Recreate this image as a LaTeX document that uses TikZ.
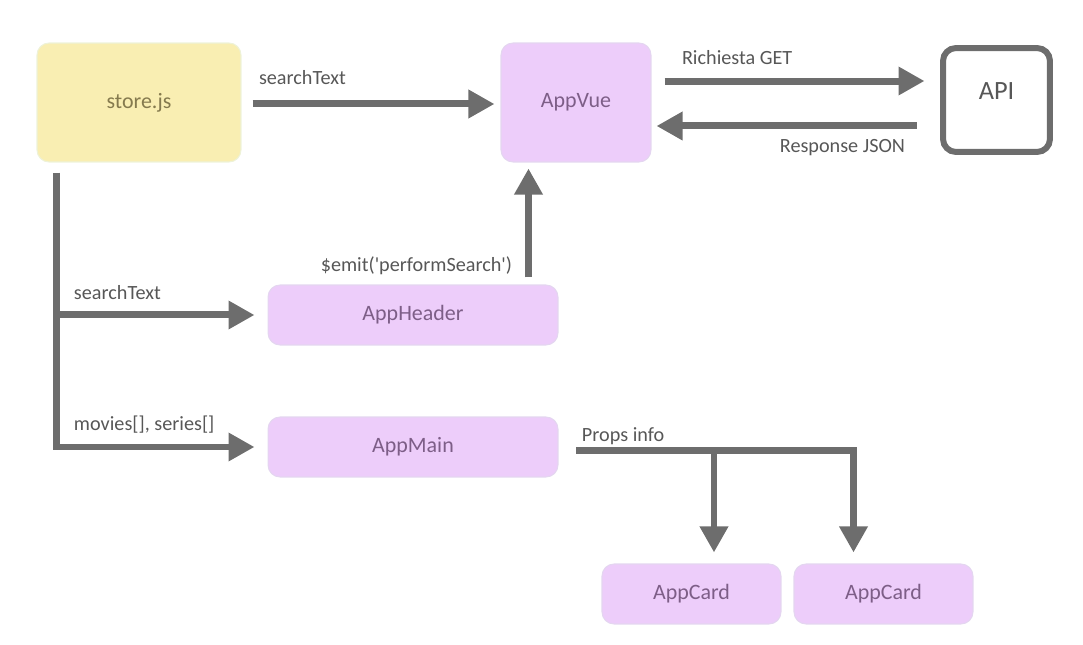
\documentclass[tikz,border=0pt]{standalone}
\usepackage{fontspec}
\setmainfont{Carlito}
\usetikzlibrary{arrows.meta}
\definecolor{storefill}{HTML}{F9EEB2}
\definecolor{storeedge}{HTML}{EEF2D8}
\definecolor{storetext}{HTML}{857A4E}
\definecolor{vuefill}{HTML}{EDCDFA}
\definecolor{vueedge}{HTML}{E4D6F0}
\definecolor{vuetext}{HTML}{7D5E87}
\definecolor{flowgray}{HTML}{6D6D6D}
\definecolor{labelgray}{HTML}{575757}

\begin{document}
\begin{tikzpicture}[x=0.02cm, y=-0.02cm,
            comp/.style = {shape=rectangle, rounded corners=0.24cm,
                           fill=vuefill, draw=vueedge, line width=0.6pt,
                           text=vuetext, font=\fontsize{12.5}{15}\selectfont},
            storebox/.style = {comp, fill=storefill, draw=storeedge, text=storetext},
            flow/.style = {draw=flowgray, line width=0.14cm,
                           -{Triangle[length=0.52cm, width=0.54cm]}},
            lbl/.style = {inner sep=0pt, text depth=0pt, text=labelgray,
                          font=\fontsize{11.5}{13}\selectfont}]
        \useasboundingbox (0,0) rectangle (1083,645);
        \node[storebox, minimum width=4.08cm, minimum height=2.38cm] (store) at (139,102.5) {store.js};
        \node[comp, minimum width=3cm, minimum height=2.38cm] (appvue) at (576,102.5) {AppVue};
        \node[draw=flowgray, line width=0.12cm, rounded corners=0.26cm,
              minimum width=2.14cm, minimum height=2.08cm, text depth=0.35cm,
              text=labelgray, font=\fontsize{15}{18}\selectfont] (api) at (996.5,100) {API};
        \node[comp, minimum width=5.8cm, minimum height=1.2cm] (header) at (413,315) {AppHeader};
        \node[comp, minimum width=5.8cm, minimum height=1.2cm] (main) at (413,447) {AppMain};
        \node[comp, minimum width=3.58cm, minimum height=1.2cm] (cardA) at (691.5,594) {AppCard};
        \node[comp, minimum width=3.58cm, minimum height=1.2cm] (cardB) at (883.5,594) {AppCard};

        \draw[flow, shorten >=0.12cm] ([xshift=0.22cm,yshift=-0.03cm]store.east)
            -- node[lbl, pos=0, anchor=base west, xshift=0.06cm, yshift=0.4cm] {searchText}
            ([yshift=-0.03cm]appvue.west);
        \draw[flow, shorten >=0.31cm] ([xshift=0.26cm,yshift=0.43cm]appvue.east)
            -- node[lbl, pos=0, anchor=base west, xshift=0.28cm, yshift=0.34cm] {Richiesta GET}
            ([yshift=0.43cm]appvue.east -| api.west);
        \draw[flow, shorten >=0.1cm] ([xshift=-0.47cm,yshift=-0.47cm]appvue.east -| api.west)
            -- node[lbl, pos=0, anchor=base east, xshift=-0.16cm, yshift=-0.54cm] {Response JSON}
            ([yshift=-0.47cm]appvue.east);
        \draw[flow, shorten >=0.12cm] ([xshift=-0.6cm,yshift=0.14cm]header.north east)
            -- node[lbl, pos=0, anchor=base east, xshift=-0.26cm, yshift=0.12cm]
               {\$emit(\textquotesingle performSearch\textquotesingle)}
            ([xshift=-0.6cm]header.north east |- appvue.south);

        \draw[flow, shorten >=0.26cm] ([xshift=0.4cm,yshift=-0.2cm]store.south west)
            |- node[lbl, pos=0.5, anchor=base west, xshift=0.28cm, yshift=0.34cm] {movies[], series[]}
            (main.west);
        \draw[flow, shorten >=0.26cm] ([xshift=0.4cm]store.south west |- header.west)
            -- node[lbl, pos=0, anchor=base west, xshift=0.28cm, yshift=0.32cm] {searchText}
            (header.west);

        \draw[flow, shorten >=0.22cm] ([xshift=0.36cm,yshift=-0.08cm]main.east)
            -| node[lbl, pos=0, anchor=base west, xshift=0.04cm, yshift=0.2cm] {Props info}
            ([xshift=-0.6cm]cardB.north);
        \draw[flow, shorten >=0.22cm] ([xshift=0.45cm,yshift=-0.08cm]cardA.north |- main.east)
            -- ([xshift=0.45cm]cardA.north);
\end{tikzpicture}
\end{document}
